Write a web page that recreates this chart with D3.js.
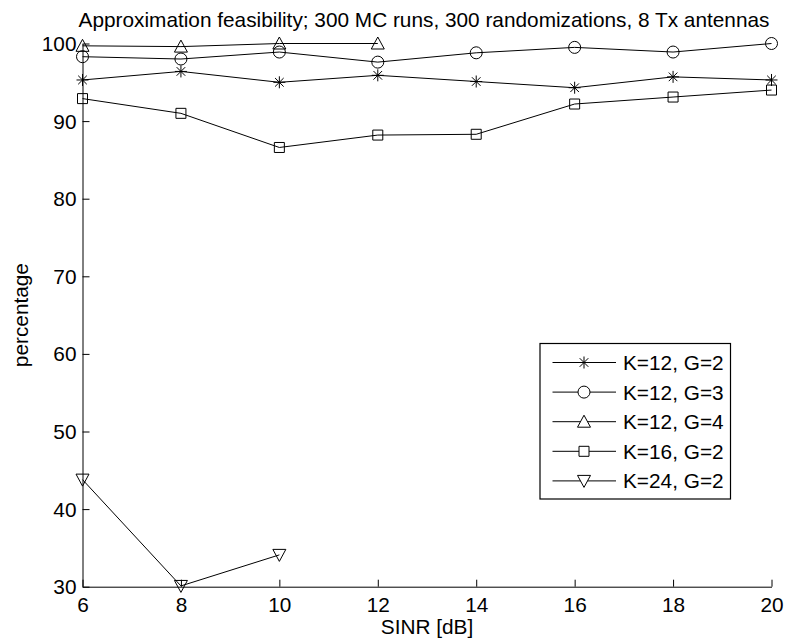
<!DOCTYPE html>
<html>
<head>
<meta charset="utf-8">
<script src="https://cdn.jsdelivr.net/npm/d3@7"></script>
<style>
  body { margin: 0; background: #fff; }
  svg { display: block; font-family: "Liberation Sans", Arial, Helvetica, sans-serif; }
</style>
</head>
<body>
<div id="chart"></div>
<script>
// SINR grid (dB)
const sinr = [6, 8, 10, 12, 14, 16, 18, 20];

// Feasibility percentages per configuration
const k12g2 = [95.3, 96.4, 95.0, 95.9, 95.1, 94.3, 95.7, 95.3];
const k12g3 = [98.3, 98.0, 98.9, 97.6, 98.8, 99.5, 98.9, 100.0];
const k12g4 = [99.7, 99.6, 100.0, 100.0];
const k16g2 = [92.9, 91.0, 86.6, 88.2, 88.3, 92.2, 93.1, 94.0];
const k24g2 = [43.8, 30.1, 34.1];

const seriesNames = ["K=12, G=2", "K=12, G=3", "K=12, G=4", "K=16, G=2", "K=24, G=2"];
const seriesMarkers = ["asterisk", "circle", "triangleUp", "square", "triangleDown"];
const seriesValues = [k12g2, k12g3, k12g4, k16g2, k24g2];

const xTicks = [6, 8, 10, 12, 14, 16, 18, 20];
const yTicks = [30, 40, 50, 60, 70, 80, 90, 100];

const titleText = "Approximation feasibility; 300 MC runs, 300 randomizations, 8 Tx antennas";
const xLabel = "SINR [dB]";
const yLabel = "percentage";

const W = 787, H = 644;
const margin = { left: 82.5, right: 787 - 771.5, top: 43.5, bottom: 644 - 586.7 };

const svg = d3.select("#chart").append("svg").attr("width", W).attr("height", H);

const x = d3.scaleLinear().domain([6, 20]).range([margin.left, W - margin.right]);
const y = d3.scaleLinear().domain([30, 100]).range([H - margin.bottom, margin.top]);

const fontSize = 20.8;
const fontFamily = "Liberation Sans, Arial, Helvetica, sans-serif";

// Axes: ticks point inward, no box
const xAxis = d3.axisBottom(x).tickValues(xTicks).tickSizeInner(-7).tickSizeOuter(0).tickFormat(d3.format("d"));
const yAxis = d3.axisLeft(y).tickValues(yTicks).tickSizeInner(-7).tickSizeOuter(0).tickFormat(d3.format("d"));

const gx = svg.append("g").attr("transform", `translate(0,${y(30)})`).call(xAxis);
const gy = svg.append("g").attr("transform", `translate(${x(6)},0)`).call(yAxis);
[gx, gy].forEach(g => {
  g.select(".domain").attr("stroke", "#000").attr("stroke-width", 1);
  g.selectAll(".tick line").attr("stroke", "#000").attr("stroke-width", 1);
  g.selectAll(".tick text").attr("fill", "#000").style("font-size", fontSize + "px").style("font-family", fontFamily);
});
gx.selectAll(".tick text").attr("y", 11).attr("dy", "0.71em");
gy.selectAll(".tick text").attr("x", -6).attr("dy", "0.34em");

// Marker shapes
function markerPath(type) {
  const p = d3.path();
  switch (type) {
    case "asterisk": {
      const r = 6, d = 4.3;
      p.moveTo(0, -r); p.lineTo(0, r);
      p.moveTo(-r, 0); p.lineTo(r, 0);
      p.moveTo(-d, -d); p.lineTo(d, d);
      p.moveTo(-d, d); p.lineTo(d, -d);
      break;
    }
    case "circle":
      p.arc(0, 0, 6, 0, 2 * Math.PI); p.closePath();
      break;
    case "triangleUp":
      p.moveTo(0, -6.5); p.lineTo(6.5, 5.5); p.lineTo(-6.5, 5.5); p.closePath();
      break;
    case "triangleDown":
      p.moveTo(0, 6.5); p.lineTo(6.5, -5.5); p.lineTo(-6.5, -5.5); p.closePath();
      break;
    case "square":
      p.rect(-5, -5, 10, 10);
      break;
  }
  return p.toString();
}

const line = d3.line().x((d, i) => x(sinr[i])).y(d => y(d));

const plot = svg.append("g");
seriesValues.forEach((vals, si) => {
  plot.append("path").attr("d", line(vals)).attr("fill", "none").attr("stroke", "#000").attr("stroke-width", 1);
  plot.selectAll(null).data(vals).enter().append("path")
    .attr("transform", (d, i) => `translate(${x(sinr[i])},${y(d)})`)
    .attr("d", markerPath(seriesMarkers[si]))
    .attr("fill", "none").attr("stroke", "#000").attr("stroke-width", 1);
});

// Title and axis labels
svg.append("text").attr("x", 424).attr("y", 27).attr("text-anchor", "middle")
  .style("font-size", fontSize + "px").text(titleText);
svg.append("text").attr("x", 427).attr("y", 634).attr("text-anchor", "middle")
  .style("font-size", fontSize + "px").text(xLabel);
svg.append("text").attr("transform", `translate(27.5,${(y(30) + y(100)) / 2}) rotate(-90)`).attr("text-anchor", "middle")
  .style("font-size", fontSize + "px").text(yLabel);

// Legend
const lg = svg.append("g").attr("transform", "translate(540,343.5)");
lg.append("rect").attr("width", 190.5).attr("height", 155.5).attr("fill", "#fff").attr("stroke", "#000").attr("stroke-width", 1.2);
seriesNames.forEach((name, i) => {
  const cy = 19 + i * 29.6;
  lg.append("line").attr("x1", 12.5).attr("x2", 76).attr("y1", cy).attr("y2", cy).attr("stroke", "#000").attr("stroke-width", 1);
  lg.append("path").attr("transform", `translate(44,${cy})`).attr("d", markerPath(seriesMarkers[i]))
    .attr("fill", "#fff").attr("stroke", "#000").attr("stroke-width", 1);
  lg.append("text").attr("x", 83).attr("y", cy).attr("dy", "0.36em").style("font-size", fontSize + "px").text(name);
});
</script>
</body>
</html>
